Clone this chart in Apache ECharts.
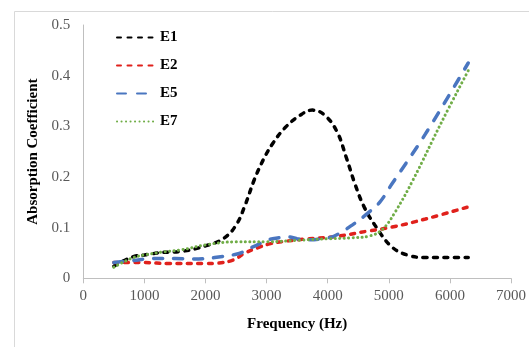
<!DOCTYPE html>
<html>
<head>
<meta charset="utf-8">
<script src="https://cdn.jsdelivr.net/npm/echarts@6/dist/echarts.min.js"></script>
<style>
  html, body { margin: 0; padding: 0; background: #fff; }
  #chart { width: 529px; height: 347px; }
</style>
</head>
<body>
<div id="chart"></div>
<script>
// Absorption coefficient versus frequency for four samples
const freqE1 = [500, 800, 1000, 1300, 1600, 2000, 2300, 2500, 2650, 2800, 2950, 3100, 3300, 3550, 3750, 3950, 4150, 4300, 4450, 4600, 4800, 5050, 5300, 5600, 6000, 6300];
const valE1  = [0.024, 0.042, 0.046, 0.051, 0.053, 0.064, 0.079, 0.105, 0.145, 0.195, 0.235, 0.266, 0.297, 0.322, 0.332, 0.322, 0.29, 0.24, 0.185, 0.14, 0.10, 0.062, 0.046, 0.041, 0.041, 0.041];

const freqE2 = [500, 800, 1000, 1400, 2000, 2200, 2450, 2650, 2850, 3050, 3300, 3600, 4100, 4650, 5050, 5600, 6300];
const valE2  = [0.031, 0.031, 0.031, 0.029, 0.029, 0.030, 0.036, 0.050, 0.060, 0.068, 0.073, 0.077, 0.082, 0.093, 0.101, 0.117, 0.141];

const freqE5 = [500, 800, 1150, 1500, 1800, 2150, 2550, 2700, 2850, 3000, 3200, 3350, 3500, 3700, 3900, 4100, 4400, 4650, 4850, 5050, 5600, 6300];
const valE5  = [0.031, 0.035, 0.039, 0.039, 0.038, 0.041, 0.049, 0.058, 0.066, 0.075, 0.080, 0.082, 0.078, 0.076, 0.078, 0.083, 0.105, 0.128, 0.150, 0.186, 0.285, 0.425];

const freqE7 = [500, 800, 1000, 1300, 1600, 2000, 2500, 3000, 3500, 4000, 4400, 4700, 4900, 5100, 5400, 5850, 6300];
const valE7  = [0.022, 0.040, 0.046, 0.052, 0.056, 0.066, 0.072, 0.072, 0.075, 0.078, 0.080, 0.084, 0.097, 0.13, 0.195, 0.305, 0.41];

const xTicks = { min: 0, max: 7000, interval: 1000 };
const yTicks = { min: 0, max: 0.5, interval: 0.1 };

const pairs = (xs, ys) => xs.map((x, i) => [x, ys[i]]);
const serif = '"Liberation Serif", "Times New Roman", serif';

function lineSeries(name, xs, ys, color, width, dash) {
  return {
    name: name,
    type: 'line',
    data: pairs(xs, ys),
    smooth: 0.4,
    symbol: 'none',
    lineStyle: { color: color, width: width, type: dash, cap: 'round' },
    itemStyle: { color: color }
  };
}

const chart = echarts.init(document.getElementById('chart'), null, { renderer: 'canvas' });
chart.setOption({
  backgroundColor: '#fff',
  animation: false,
  graphic: [{
    type: 'rect',
    left: 12, top: 9,
    shape: { width: 560, height: 380 },
    style: { fill: 'none', stroke: '#d9d9d9', lineWidth: 1 },
    silent: true
  }],
  grid: { left: 83.3, right: 11.3, top: 25, bottom: 68.7 },
  legend: {
    orient: 'vertical',
    left: 111, top: 25,
    itemWidth: 38, itemHeight: 14, itemGap: 13,
    itemStyle: { opacity: 0 },
    textStyle: { fontFamily: serif, fontWeight: 'bold', fontSize: 15, color: '#000' },
    data: ['E1', 'E2', 'E5', 'E7']
  },
  xAxis: {
    type: 'value',
    min: xTicks.min, max: xTicks.max, interval: xTicks.interval,
    name: 'Frequency (Hz)',
    nameLocation: 'middle',
    nameGap: 38,
    nameTextStyle: { fontFamily: serif, fontWeight: 'bold', fontSize: 15, color: '#000' },
    axisLine: { lineStyle: { color: '#bfbfbf', width: 1 } },
    axisTick: { show: true, length: 5, lineStyle: { color: '#bfbfbf' } },
    axisLabel: { fontFamily: serif, fontSize: 15, color: '#595959', margin: 10, formatter: v => String(v) },
    splitLine: { show: false }
  },
  yAxis: {
    type: 'value',
    min: yTicks.min, max: yTicks.max, interval: yTicks.interval,
    name: 'Absorption Coefficient',
    nameLocation: 'middle',
    nameGap: 29,
    nameTextStyle: { fontFamily: serif, fontWeight: 'bold', fontSize: 15, color: '#000' },
    axisLine: { show: true, lineStyle: { color: '#bfbfbf', width: 1 } },
    axisTick: { show: false },
    axisLabel: { fontFamily: serif, fontSize: 15, color: '#595959', margin: 13, formatter: v => String(+v.toFixed(1)) },
    splitLine: { show: false }
  },
  series: [
    lineSeries('E1', freqE1, valE1, '#000000', 3.5, [4, 6.5]),
    lineSeries('E2', freqE2, valE2, '#e0211c', 3.5, [4, 6.5]),
    lineSeries('E5', freqE5, valE5, '#4a76c0', 3.5, [9, 11]),
    lineSeries('E7', freqE7, valE7, '#70ad47', 3, [0.1, 4.4])
  ]
});
</script>
</body>
</html>
